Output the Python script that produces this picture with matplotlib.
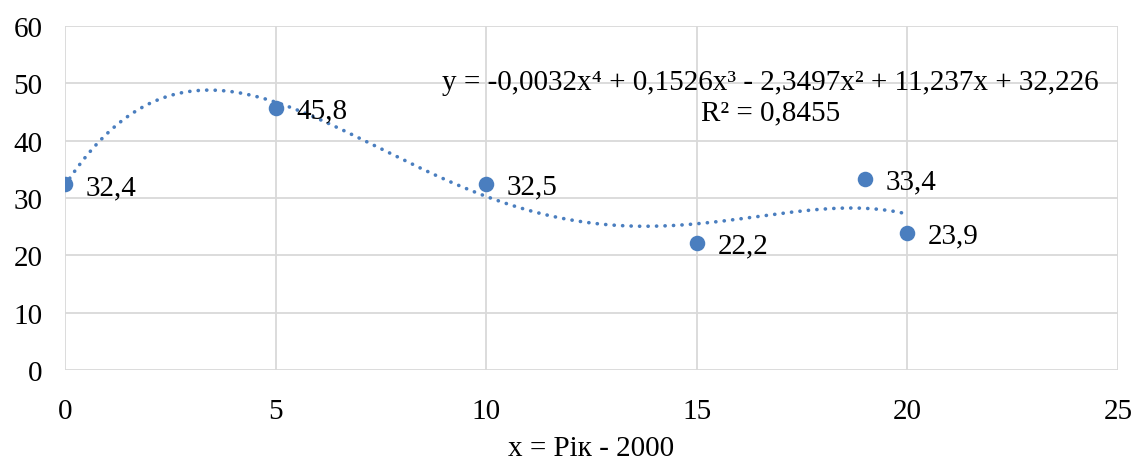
import numpy as np
import matplotlib.pyplot as plt

plt.rcParams["font.family"] = ["Liberation Serif", "DejaVu Serif"]

years = [0, 5, 10, 15, 19, 20]
values = [32.4, 45.8, 32.5, 22.2, 33.4, 23.9]
value_labels = ["32,4", "45,8", "32,5", "22,2", "33,4", "23,9"]
trend_text = "y = -0,0032x⁴ + 0,1526x³ - 2,3497x² + 11,237x + 32,226\nR² = 0,8455"

blue = "#4A7EBF"
fs = 21

fig = plt.figure(figsize=(11.36, 4.6), dpi=100)
ax = fig.add_axes([0.0572, 0.1935, 0.9268, 0.7475])

# 4th degree polynomial trend
coef = np.polyfit(years, values, 4)
xs = np.linspace(min(years), max(years), 300)
ax.plot(xs, np.polyval(coef, xs), color=blue, lw=2.6,
        linestyle=(0, (0.05, 2.3)), dash_capstyle="round", zorder=2)

ax.scatter(years, values, s=125, color=blue, zorder=3, linewidths=0)

for x, y, t in zip(years, values, value_labels):
    ax.annotate(t, (x, y), xytext=(15, -2), textcoords="offset points",
                ha="left", va="center", fontsize=fs)

ax.text(16.75, 47.6, trend_text, ha="center", va="center",
        fontsize=fs, linespacing=1.25)

ax.set_xlim(0, 25)
ax.set_ylim(0, 60)
ax.set_xticks(range(0, 26, 5))
ax.set_yticks(range(0, 61, 10))
ax.grid(True, color="#D9D9D9", lw=1.3)
ax.set_axisbelow(True)
for s in ax.spines.values():
    s.set_visible(False)
ax.tick_params(length=0, labelsize=fs, colors="black")
ax.tick_params(axis="x", pad=20)
ax.tick_params(axis="y", pad=16)
ax.set_xlabel("x = Рік - 2000", fontsize=fs, labelpad=8)

fig.savefig("out.png", dpi=100)
